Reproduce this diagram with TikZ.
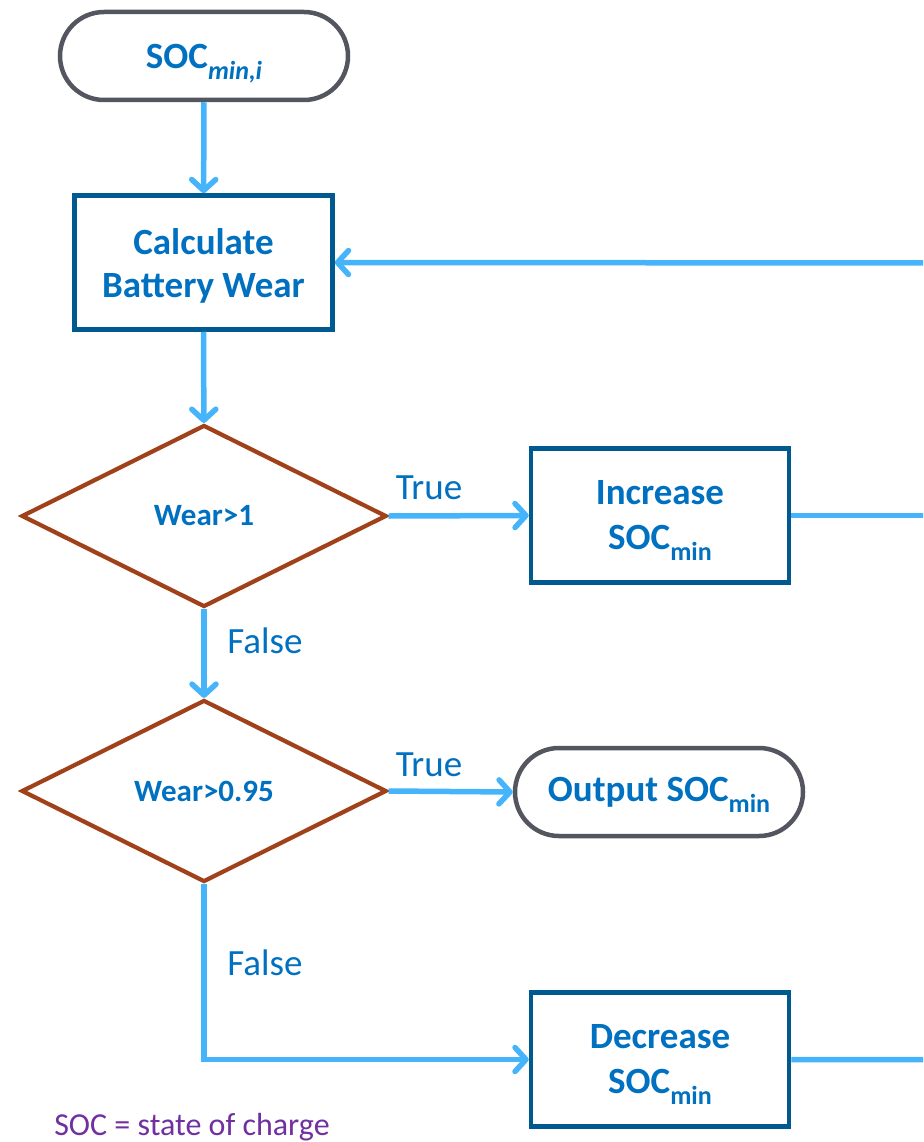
\documentclass[tikz,border=0pt]{standalone}
\usepackage{fontspec}
\setmainfont{Carlito}
\usetikzlibrary{arrows.meta,shapes.geometric}
\definecolor{arrowblue}{HTML}{45B4FA}
\definecolor{boxblue}{HTML}{005A8F}
\definecolor{txtblue}{HTML}{0070C0}
\definecolor{brown}{HTML}{A0411A}
\definecolor{termgray}{HTML}{53565E}
\definecolor{notepurple}{HTML}{7030A0}
\newcommand{\subx}[1]{\raisebox{-0.3em}[\height][0pt]{\fontsize{26}{26}\selectfont #1}}
\tikzset{
  procbox/.style={draw=boxblue, line width=4.5pt, fill=white, minimum width=258pt, minimum height=134pt, align=center, text=txtblue, font=\fontsize{37}{45}\selectfont\bfseries, inner sep=0pt},
  termbox/.style={draw=termgray, line width=4.5pt, rounded corners=44pt, minimum width=288pt, minimum height=88pt, align=center, text=txtblue, font=\fontsize{37}{44}\selectfont\bfseries, inner sep=0pt},
  decbox/.style={draw=brown, line width=4.2pt, diamond, aspect=2, minimum width=365pt, minimum height=182pt, inner sep=0pt, text=txtblue, font=\fontsize{31}{34}\selectfont\bfseries},
  flow/.style={draw=arrowblue, line width=5.5pt, -{Straight Barb[length=11pt,width=24pt,line cap=round,line join=round]}},
  flowline/.style={draw=arrowblue, line width=5.5pt},
  lbl/.style={text=txtblue, font=\fontsize{37}{40}\selectfont, inner sep=0pt},
}
\begin{document}
\begin{tikzpicture}[x=1pt,y=-1pt]
\useasboundingbox (0,0) rectangle (923,1142);
\clip (0,0) rectangle (923,1142);
\node[termbox] (start) at (204,56) {SOC\subx{\itshape min,i}};
\node[procbox] (calc) at (203.5,262.5) {\raisebox{-4pt}[\height][\depth]{\begin{tabular}{@{}c@{}}Calculate\\[-2pt]Battery Wear\end{tabular}}};
\node[decbox] (d1) at (204,516) {Wear>1};
\node[procbox] (inc) at (660,515.5) {Increase\\SOC\subx{min}};
\node[decbox] (d2) at (204,791) {Wear>0.95};
\node[termbox] (out) at (659,792) {Output SOC\subx{min}};
\node[procbox] (dec) at (660,1059.5) {Decrease\\SOC\subx{min}};
\node[text=notepurple, font=\fontsize{32}{36}\selectfont, inner sep=0pt] (note) at (192,1127) {SOC = state of charge};
\coordinate (rtop) at (960,263);

\node[lbl] (t1) at (429,488) {True};
\node[lbl] (f1) at (265,641) {False};
\node[lbl] (t2) at (429,765) {True};
\node[lbl] (f2) at (265,963) {False};

\draw[flow] (start) -- (calc);
\draw[flow] (calc) -- (d1);
\draw[flow] (d1.east) -- (inc.west);
\draw[flow] (d1.south) -- (d2.north);
\draw[flow] (d2.east) -- (out.west);
\draw[flow] (d2.south) |- (dec.west);
\draw[flowline] (inc.east) -- (inc.east -| rtop);
\draw[flow] (dec.east) -| (rtop) -- (calc.east);
\end{tikzpicture}
\end{document}
